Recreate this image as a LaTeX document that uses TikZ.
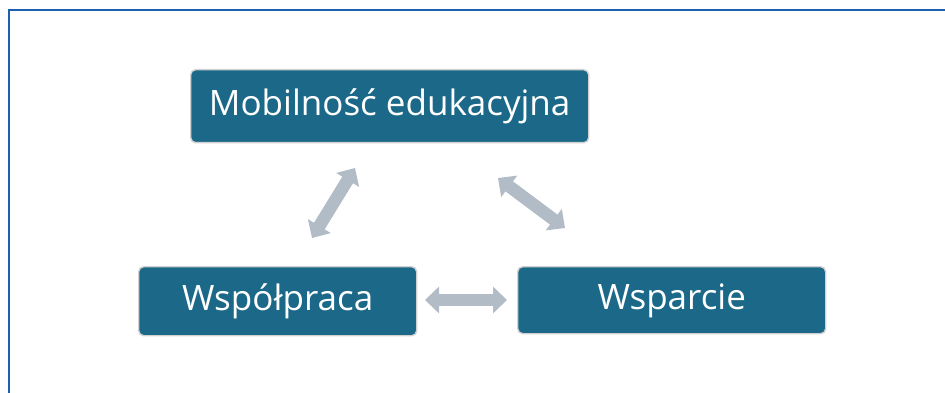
\documentclass[tikz,border=0pt]{standalone}
\usepackage{fontspec}
\setmainfont{Open Sans}
\usetikzlibrary{arrows.meta}
\definecolor{boxblue}{RGB}{27,104,137}
\definecolor{arrowgray}{RGB}{178,188,198}
\definecolor{framblue}{RGB}{30,96,176}
\tikzset{
  x=1pt,y=-1pt,
  box/.style={draw=black!18, line width=1.4pt, fill=boxblue, rounded corners=5pt,
    text=white, font=\fontsize{35}{38}\selectfont, text height=25pt, text depth=6pt,
    inner sep=0pt, anchor=north west},
  fatarrow/.style={draw=arrowgray, line width=12.5pt,
    {Triangle[width=26pt,length=14pt]}-{Triangle[width=26pt,length=14pt]}},
}
\begin{document}
\begin{tikzpicture}
\useasboundingbox (0,0) rectangle (945,393);
\draw[framblue, line width=2pt] (8.5,393) -- (8.5,10) -- (945,10);
\node[box, minimum width=398pt, minimum height=73pt] (mob) at (190,69) {Mobilność edukacyjna};
\node[box, minimum width=278pt, minimum height=69pt] (wsp) at (138,266) {Współpraca};
\node[box, minimum width=308pt, minimum height=67pt] (wsa) at (517,266) {Wsparcie};
\coordinate (a1) at (312,238);
\coordinate (a2) at (355,168);
\coordinate (b1) at (498,178);
\coordinate (b2) at (565,228);
\coordinate (c1) at (425,300);
\coordinate (c2) at (507,300);
\draw[fatarrow] (a1) -- (a2);
\draw[fatarrow] (b1) -- (b2);
\draw[fatarrow] (c1) -- (c2);
\end{tikzpicture}
\end{document}
